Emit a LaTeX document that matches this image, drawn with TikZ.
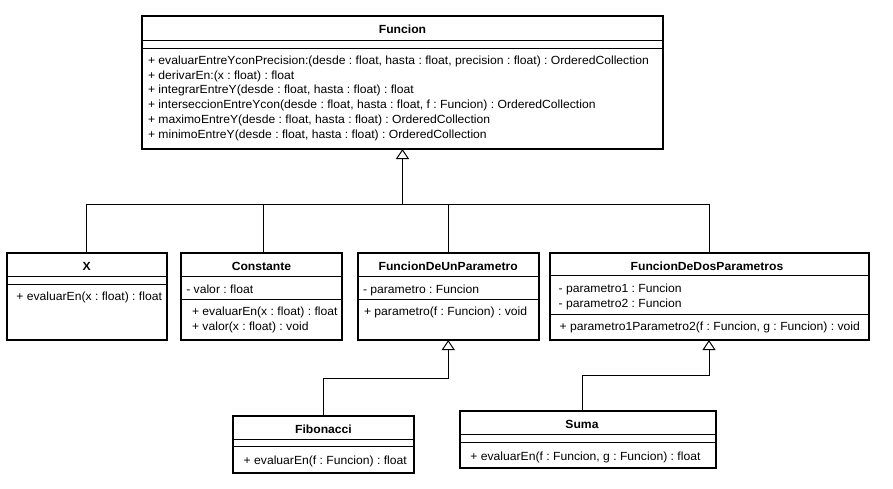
\documentclass[tikz,border=0pt]{standalone}
\usepackage{fontspec}
\setmainfont{Liberation Sans}[FakeStretch=1.03]
\usetikzlibrary{arrows.meta}
\frenchspacing
\begin{document}
\begin{tikzpicture}[x=1pt,y=-1pt,
  box/.style={draw,line width=2pt,inner sep=0pt,outer sep=0pt,anchor=north west},
  sepline/.style={line width=1pt},
  txt/.style={anchor=base west,inner sep=0pt,font=\fontsize{11.8}{14}\selectfont},
  ttl/.style={anchor=base,inner sep=0pt,font=\fontsize{11.8}{14}\selectfont\bfseries},
  conn/.style={line width=1pt},
  inh/.style={line width=1pt,-{Triangle[open,width=13pt,length=10pt,line width=1pt]}}]
\useasboundingbox (0,0) rectangle (893,488);
\fill[white] (0,0) rectangle (893,488);

% ---- Funcion
\node[box,minimum width=521pt,minimum height=133pt] (fun) at (142,16) {};
\draw[sepline] (fun.west |- 0,40) -- (fun.east |- 0,40);
\draw[sepline] (fun.west |- 0,48) -- (fun.east |- 0,48);
\node[ttl] (funT) at (402.5,33.5) {Funcion};
\node[txt] (funM1) at (147.8,64) {+ evaluarEntreYconPrecision:(desde : float, hasta : float, precision : float) : OrderedCollection};
\node[txt] (funM2) at (147.8,79) {+ derivarEn:(x : float) : float};
\node[txt] (funM3) at (147.8,93.7) {+ integrarEntreY(desde : float, hasta : float) : float};
\node[txt] (funM4) at (147.8,108.7) {+ interseccionEntreYcon(desde : float, hasta : float, f : Funcion) : OrderedCollection};
\node[txt] (funM5) at (147.8,123.3) {+ maximoEntreY(desde : float, hasta : float) : OrderedCollection};
\node[txt] (funM6) at (147.8,138) {+ minimoEntreY(desde : float, hasta : float) : OrderedCollection};

% ---- X
\node[box,minimum width=160.5pt,minimum height=87pt] (X) at (6.5,253) {};
\draw[sepline] (X.west |- 0,276) -- (X.east |- 0,276);
\draw[sepline] (X.west |- 0,284.5) -- (X.east |- 0,284.5);
\node[ttl] (XT) at (86.8,270) {X};
\node[txt] (XM1) at (16.2,300.7) {+ evaluarEn(x : float) : float};

% ---- Constante
\node[box,minimum width=161pt,minimum height=87pt] (C) at (181,253) {};
\draw[sepline] (C.west |- 0,276) -- (C.east |- 0,276);
\draw[sepline] (C.west |- 0,299.5) -- (C.east |- 0,299.5);
\node[ttl] (CT) at (261.5,270) {Constante};
\node[txt] (CA1) at (186.1,293) {- valor : float};
\node[txt] (CM1) at (191.8,315.7) {+ evaluarEn(x : float) : float};
\node[txt] (CM2) at (191.8,330.7) {+ valor(x : float) : void};

% ---- FuncionDeUnParametro
\node[box,minimum width=181.5pt,minimum height=87pt] (U) at (357.5,253) {};
\draw[sepline] (U.west |- 0,276) -- (U.east |- 0,276);
\draw[sepline] (U.west |- 0,299) -- (U.east |- 0,299);
\node[ttl] (UT) at (448.2,270) {FuncionDeUnParametro};
\node[txt] (UA1) at (362.8,293) {- parametro : Funcion};
\node[txt] (UM1) at (363.8,315.7) {+ parametro(f : Funcion) : void};

% ---- FuncionDeDosParametros
\node[box,minimum width=319pt,minimum height=87pt] (D) at (549.5,253) {};
\draw[sepline] (D.west |- 0,275.5) -- (D.east |- 0,275.5);
\draw[sepline] (D.west |- 0,314) -- (D.east |- 0,314);
\node[ttl] (DT) at (707,270) {FuncionDeDosParametros};
\node[txt] (DA1) at (558.5,292.3) {- parametro1 : Funcion};
\node[txt] (DA2) at (558.5,307.7) {- parametro2 : Funcion};
\node[txt] (DM1) at (559.5,330.7) {+ parametro1Parametro2(f : Funcion, g : Funcion) : void};

% ---- Fibonacci
\node[box,minimum width=181pt,minimum height=56.5pt] (F) at (233,416) {};
\draw[sepline] (F.west |- 0,439) -- (F.east |- 0,439);
\draw[sepline] (F.west |- 0,446.5) -- (F.east |- 0,446.5);
\node[ttl] (FT) at (323.5,433.3) {Fibonacci};
\node[txt] (FM1) at (243.5,464) {+ evaluarEn(f : Funcion) : float};

% ---- Suma
\node[box,minimum width=256.5pt,minimum height=56.5pt] (S) at (459.5,411) {};
\draw[sepline] (S.west |- 0,434.5) -- (S.east |- 0,434.5);
\draw[sepline] (S.west |- 0,442.5) -- (S.east |- 0,442.5);
\node[ttl] (ST) at (582,428.3) {Suma};
\node[txt] (SM1) at (470.2,460) {+ evaluarEn(f : Funcion, g : Funcion) : float};

% ---- connectors
\coordinate (bus) at ([yshift=-55.5pt]fun.south);
\coordinate (ctop) at (263,253);
\coordinate (stop) at (582.3,411);
\draw[conn] (X.north) -- (X.north |- bus) -- (D.north |- bus) -- (D.north);
\draw[conn] (ctop) -- (ctop |- bus);
\draw[conn] (U.north) -- (U.north |- bus);
\draw[inh] (bus) -- (fun.south);
\draw[inh] (F.north) |- (U.south |- 0,378.3) -- (U.south);
\draw[inh] (stop) |- (D.south |- 0,375.7) -- (D.south);
\end{tikzpicture}
\end{document}
